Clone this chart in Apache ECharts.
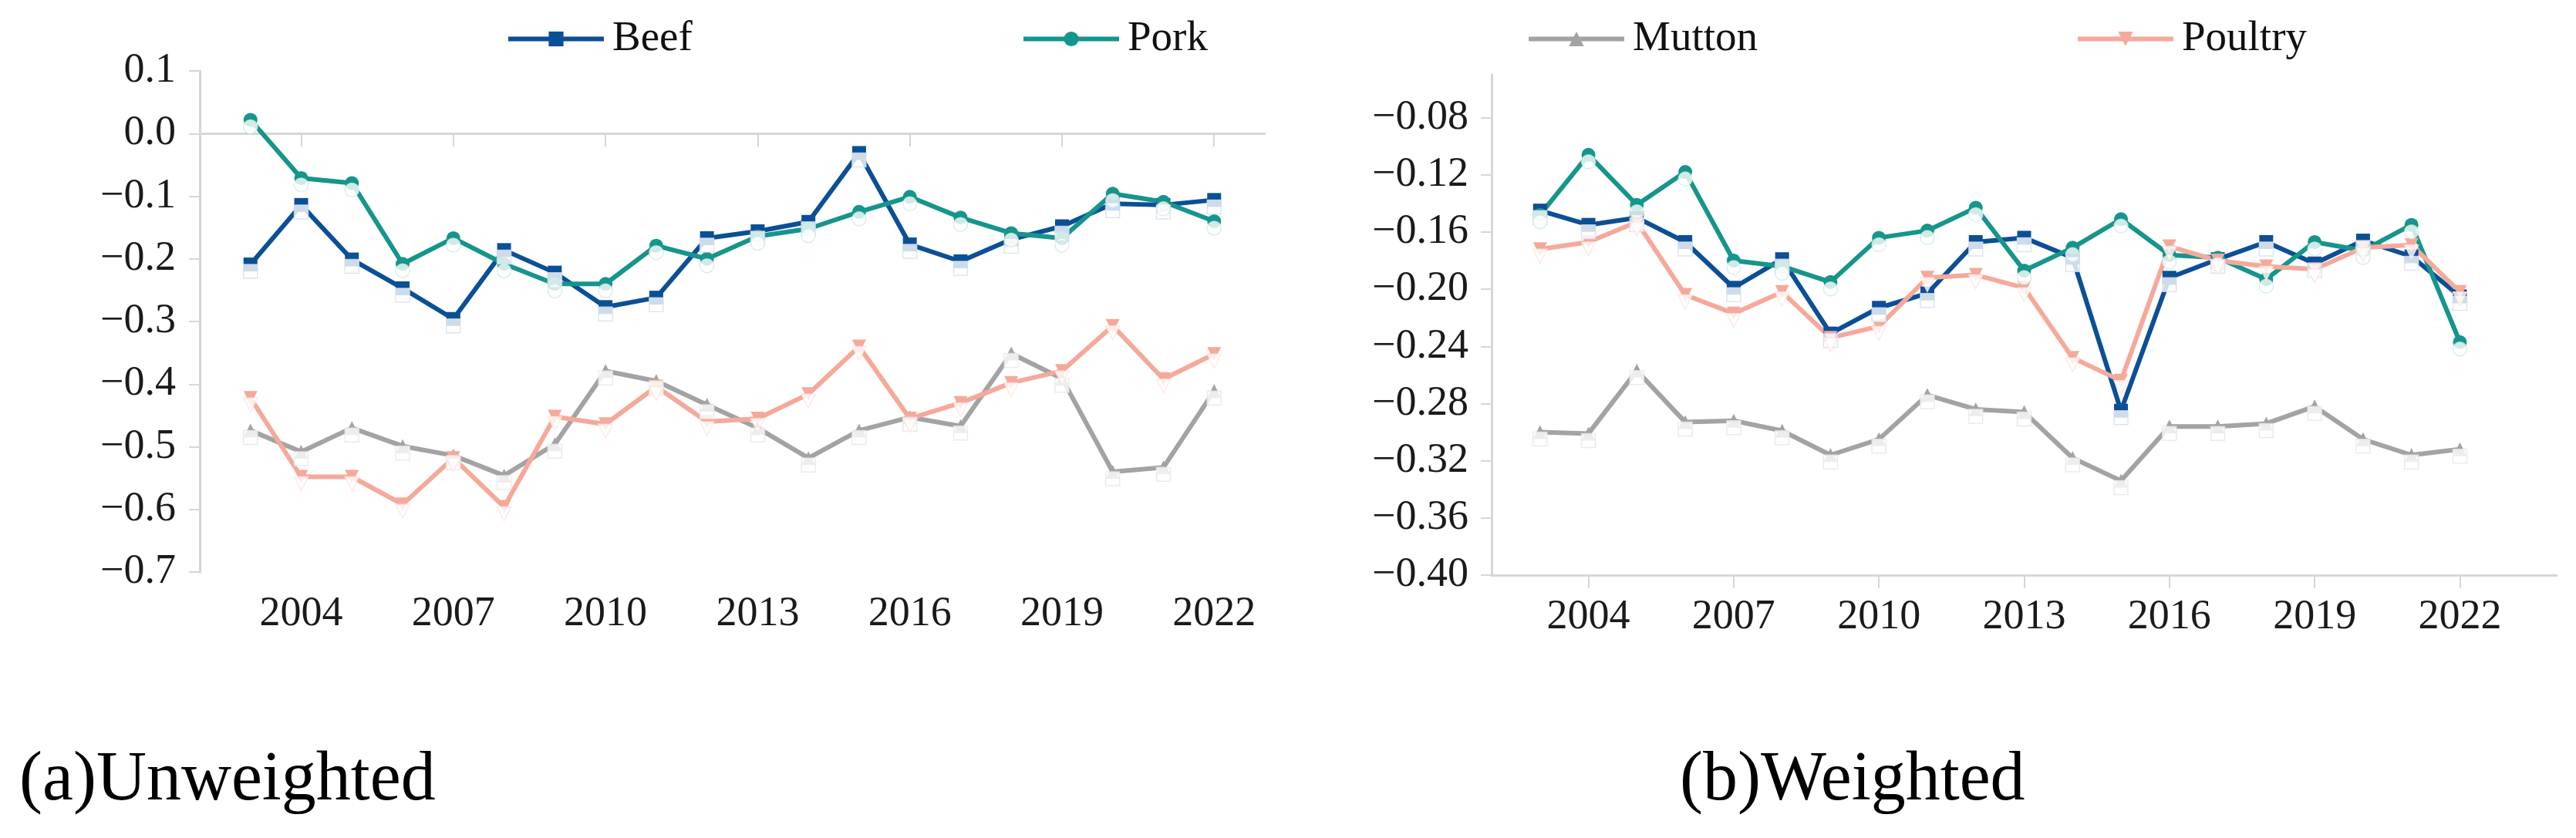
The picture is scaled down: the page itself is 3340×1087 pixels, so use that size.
<!DOCTYPE html>
<html>
<head>
<meta charset="utf-8">
<script src="https://cdn.jsdelivr.net/npm/echarts@6/dist/echarts.min.js"></script>
<style>
  html, body { margin: 0; padding: 0; background: #ffffff; }
  #chart { width: 3340px; height: 1087px; }
</style>
</head>
<body>
<div id="chart"></div>
<script>
// ---------- data ----------
const years = [2003, 2004, 2005, 2006, 2007, 2008, 2009, 2010, 2011, 2012,
               2013, 2014, 2015, 2016, 2017, 2018, 2019, 2020, 2021, 2022];
const leftAxisYears = [2002, 2003, 2004, 2005, 2006, 2007, 2008, 2009, 2010, 2011, 2012,
                       2013, 2014, 2015, 2016, 2017, 2018, 2019, 2020, 2021, 2022, 2023];
const rightAxisYears = [2002, 2003, 2004, 2005, 2006, 2007, 2008, 2009, 2010, 2011, 2012,
                        2013, 2014, 2015, 2016, 2017, 2018, 2019, 2020, 2021, 2022, 2023, 2024];
const xLabelYears = [2004, 2007, 2010, 2013, 2016, 2019, 2022];
const rightYTicks = [-0.40, -0.36, -0.32, -0.28, -0.24, -0.20, -0.16, -0.12, -0.08];

// (a) Unweighted
const beefU    = [-0.209, -0.114, -0.201, -0.247, -0.296, -0.186, -0.222, -0.277, -0.262, -0.167,
                  -0.156, -0.141, -0.031, -0.177, -0.204, -0.169, -0.148, -0.112, -0.114, -0.106];
const porkU    = [0.022, -0.071, -0.079, -0.208, -0.167, -0.208, -0.240, -0.240, -0.179, -0.200,
                  -0.164, -0.152, -0.125, -0.101, -0.134, -0.159, -0.167, -0.096, -0.109, -0.140];
const muttonU  = [-0.474, -0.508, -0.470, -0.499, -0.514, -0.546, -0.496, -0.379, -0.395, -0.433,
                  -0.470, -0.518, -0.474, -0.453, -0.467, -0.351, -0.391, -0.540, -0.533, -0.411];
const poultryU = [-0.422, -0.548, -0.548, -0.592, -0.518, -0.596, -0.452, -0.464, -0.404, -0.460,
                  -0.455, -0.416, -0.340, -0.455, -0.430, -0.398, -0.379, -0.307, -0.392, -0.352];

// (b) Weighted
const beefW    = [-0.145, -0.155, -0.150, -0.167, -0.199, -0.179, -0.231, -0.213, -0.203, -0.167,
                  -0.164, -0.178, -0.285, -0.192, -0.179, -0.167, -0.182, -0.166, -0.177, -0.205];
const porkW    = [-0.148, -0.106, -0.141, -0.118, -0.180, -0.184, -0.195, -0.164, -0.159, -0.143,
                  -0.187, -0.171, -0.151, -0.176, -0.178, -0.193, -0.167, -0.173, -0.155, -0.237];
const muttonW  = [-0.300, -0.301, -0.257, -0.293, -0.292, -0.299, -0.316, -0.305, -0.274, -0.284,
                  -0.286, -0.318, -0.334, -0.296, -0.296, -0.294, -0.282, -0.305, -0.316, -0.312];
const poultryW = [-0.172, -0.167, -0.153, -0.204, -0.217, -0.202, -0.234, -0.226, -0.192, -0.190,
                  -0.199, -0.248, -0.264, -0.170, -0.180, -0.184, -0.186, -0.171, -0.169, -0.202];

// ---------- styling ----------
const FONT = '"Liberation Serif", "Times New Roman", serif';
const AXIS_GREY = '#d6d6d6';
const seriesDefs = [
  { name: 'Beef',    color: '#0b4f96', ghost: '#d3e0ee', symbol: 'rect',     rotate: 0,   u: beefU,    w: beefW },
  { name: 'Pork',    color: '#15958b', ghost: '#cfeae6', symbol: 'circle',   rotate: 0,   u: porkU,    w: porkW },
  { name: 'Mutton',  color: '#a3a3a3', ghost: '#e6e6e6', symbol: 'triangle', rotate: 0,   u: muttonU,  w: muttonW },
  { name: 'Poultry', color: '#f5a99a', ghost: '#fce4df', symbol: 'triangle', rotate: 180, u: poultryU, w: poultryW }
];

const minus = s => s.replace('-', '\u2212');
const showYear = (idx, val) => xLabelYears.indexOf(Number(val)) >= 0;

function xAxis(gridIndex, cats) {
  return {
    type: 'category', gridIndex, data: cats.map(String), boundaryGap: false,
    axisLine: { show: true, lineStyle: { color: AXIS_GREY, width: 3 } },
    axisTick: { show: true, interval: showYear, length: 17, lineStyle: { color: AXIS_GREY, width: 2 } },
    axisLabel: { interval: showYear, margin: 28, color: '#1a1a1a', fontFamily: FONT, fontSize: 54 },
    splitLine: { show: false }
  };
}

const option = {
  animation: false,
  backgroundColor: '#ffffff',
  grid: [
    { left: 259, top: 92, width: 1381, height: 650 },
    { left: 1934, top: 97, width: 1381, height: 649 }
  ],
  xAxis: [ xAxis(0, leftAxisYears), xAxis(1, rightAxisYears) ],
  yAxis: [
    {
      type: 'value', gridIndex: 0, min: -0.7, max: 0.1, interval: 0.1,
      axisLine: { show: true, lineStyle: { color: AXIS_GREY, width: 3 } },
      axisTick: { show: true, length: 14, lineStyle: { color: AXIS_GREY, width: 2 } },
      axisLabel: { margin: 31, color: '#1a1a1a', fontFamily: FONT, fontSize: 54,
                   formatter: v => minus(v.toFixed(1)) },
      splitLine: { show: false }
    },
    {
      type: 'value', gridIndex: 1, min: -0.40, max: -0.05, interval: 0.04,
      axisLine: { show: true, lineStyle: { color: AXIS_GREY, width: 3 } },
      axisTick: { show: true, length: 14, customValues: rightYTicks, lineStyle: { color: AXIS_GREY, width: 2 } },
      axisLabel: { margin: 30, color: '#1a1a1a', fontFamily: FONT, fontSize: 54,
                   customValues: rightYTicks,
                   formatter: v => minus(v.toFixed(2)) },
      splitLine: { show: false }
    }
  ],
  legend: [
    { name: 'Beef',    left: 656 },
    { name: 'Pork',    left: 1324 },
    { name: 'Mutton',  left: 1979 },
    { name: 'Poultry', left: 2691 }
  ].map(l => ({
    data: [l.name], left: l.left, top: 23, padding: 0, orient: 'horizontal',
    itemWidth: 124, itemHeight: 24, itemGap: 0,
    lineStyle: { width: 6 },
    textStyle: { fontFamily: FONT, fontSize: 55, color: '#111', padding: [0, 0, 0, 6] }
  })),
  graphic: [
    { type: 'text', left: 25, top: 1013 - 45,
      style: { text: '(a)Unweighted', font: '90px ' + FONT, fill: '#000' } },
    { type: 'text', left: 2178, top: 1013 - 45,
      style: { text: '(b)Weighted', font: '90px ' + FONT, fill: '#000' } }
  ],
  series: []
};

[0, 1].forEach(gi => {
  seriesDefs.forEach(d => {
    const vals = gi === 0 ? d.u : d.w;
    const data = years.map((y, i) => [String(y), vals[i]]);
    option.series.push({
      type: 'line', name: d.name, xAxisIndex: gi, yAxisIndex: gi, data,
      symbol: d.symbol, symbolRotate: d.rotate, symbolSize: 18, showSymbol: true,
      lineStyle: { color: d.color, width: 6 },
      itemStyle: { color: d.color, borderWidth: 0 },
      z: 2
    });
  });
  seriesDefs.forEach(d => {
    const vals = gi === 0 ? d.u : d.w;
    const data = years.map((y, i) => [String(y), vals[i]]);
    option.series.push({
      type: 'scatter', name: d.name + ' marker', xAxisIndex: gi, yAxisIndex: gi, data,
      symbol: d.symbol === 'triangle' && d.rotate === 0 ? 'rect' : d.symbol,
      symbolRotate: d.rotate, symbolSize: 18, symbolOffset: [0, 9],
      itemStyle: { color: '#ffffff', borderColor: d.ghost, borderWidth: 1.5 },
      silent: true, z: 3
    });
  });
});

const chart = echarts.init(document.getElementById('chart'), null, { renderer: 'canvas' });
chart.setOption(option);
</script>
</body>
</html>
